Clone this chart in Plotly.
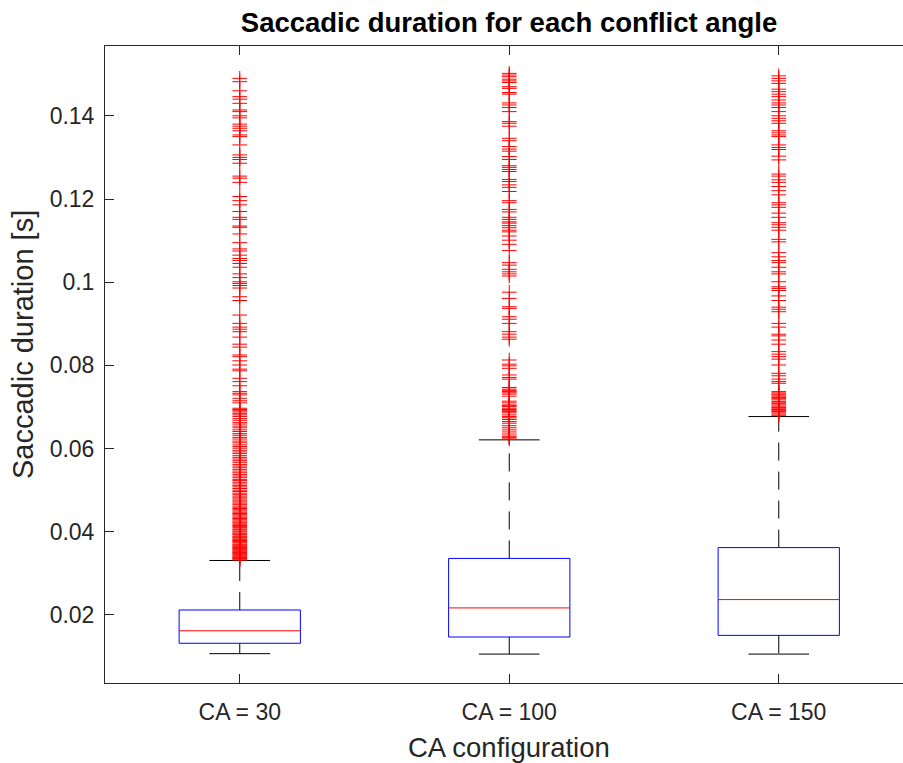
import plotly.graph_objects as go

# Box-plot summary per conflict angle (seconds)
categories = ["CA = 30", "CA = 100", "CA = 150"]
positions = [1, 2, 3]
q1 = [0.0132, 0.0147, 0.0151]
median = [0.0162, 0.0217, 0.0237]
q3 = [0.0212, 0.0336, 0.0362]
lower_whisker = [0.0107, 0.0106, 0.0106]
upper_whisker = [0.0331, 0.0621, 0.0677]

# Outlying saccade durations (seconds)
outliers_ca30 = [
    0.1490, 0.1482, 0.1460, 0.1446, 0.1440, 0.1430, 0.1414, 0.1410, 0.1400, 0.1395,
    0.1380, 0.1375, 0.1370, 0.1364, 0.1354, 0.1350, 0.1330, 0.1306, 0.1300, 0.1295,
    0.1286, 0.1255, 0.1250, 0.1240, 0.1206, 0.1196, 0.1186, 0.1170, 0.1156, 0.1151,
    0.1135, 0.1132, 0.1116, 0.1095, 0.1080, 0.1075, 0.1065, 0.1057, 0.1052, 0.1045,
    0.1036, 0.1020, 0.1011, 0.1001, 0.0997, 0.0992, 0.0986, 0.0965, 0.0956, 0.0921,
    0.0901, 0.0892, 0.0887, 0.0881, 0.0868, 0.0851, 0.0844, 0.0825, 0.0821, 0.0811,
    0.0801, 0.0791, 0.0787, 0.0769, 0.0761, 0.0751, 0.0737, 0.0733, 0.0729, 0.0721,
    0.0715, 0.0710, 0.0697, 0.0694, 0.0691, 0.0688, 0.0684, 0.0681, 0.0677, 0.0672,
    0.0668, 0.0663, 0.0659, 0.0654, 0.0650, 0.0645, 0.0641, 0.0636, 0.0632, 0.0627,
    0.0623, 0.0618, 0.0614, 0.0609, 0.0605, 0.0601, 0.0596, 0.0592, 0.0588, 0.0583,
    0.0579, 0.0575, 0.0571, 0.0567, 0.0562, 0.0558, 0.0554, 0.0550, 0.0546, 0.0542,
    0.0538, 0.0534, 0.0530, 0.0526, 0.0523, 0.0519, 0.0515, 0.0511, 0.0508, 0.0504,
    0.0500, 0.0497, 0.0493, 0.0490, 0.0486, 0.0483, 0.0479, 0.0476, 0.0472, 0.0469,
    0.0466, 0.0462, 0.0459, 0.0456, 0.0453, 0.0450, 0.0447, 0.0444, 0.0441, 0.0438,
    0.0435, 0.0432, 0.0429, 0.0426, 0.0423, 0.0421, 0.0418, 0.0415, 0.0413, 0.0410,
    0.0407, 0.0405, 0.0402, 0.0400, 0.0397, 0.0395, 0.0393, 0.0390, 0.0388, 0.0386,
    0.0383, 0.0381, 0.0379, 0.0377, 0.0375, 0.0373, 0.0370, 0.0368, 0.0366, 0.0364,
    0.0362, 0.0360, 0.0358, 0.0356, 0.0354, 0.0352, 0.0350, 0.0348, 0.0346, 0.0344,
    0.0342, 0.0340, 0.0338, 0.0336, 0.0334, 0.0332,
]
outliers_ca100 = [
    0.1502, 0.1498, 0.1494, 0.1488, 0.1484, 0.1480, 0.1470, 0.1466, 0.1456, 0.1452,
    0.1431, 0.1426, 0.1420, 0.1410, 0.1386, 0.1382, 0.1375, 0.1346, 0.1340, 0.1326,
    0.1320, 0.1315, 0.1302, 0.1295, 0.1280, 0.1276, 0.1271, 0.1266, 0.1247, 0.1242,
    0.1234, 0.1228, 0.1218, 0.1196, 0.1191, 0.1175, 0.1169, 0.1156, 0.1151, 0.1145,
    0.1142, 0.1136, 0.1131, 0.1125, 0.1121, 0.1111, 0.1101, 0.1091, 0.1076, 0.1047,
    0.1041, 0.1031, 0.1025, 0.1020, 0.1015, 0.0976, 0.0961, 0.0941, 0.0937, 0.0917,
    0.0911, 0.0901, 0.0881, 0.0875, 0.0868, 0.0863, 0.0813, 0.0803, 0.0799, 0.0793,
    0.0777, 0.0771, 0.0767, 0.0747, 0.0743, 0.0740, 0.0737, 0.0734, 0.0731, 0.0726,
    0.0714, 0.0710, 0.0705, 0.0703, 0.0701, 0.0697, 0.0694, 0.0691, 0.0689, 0.0686,
    0.0681, 0.0677, 0.0674, 0.0670, 0.0665, 0.0661, 0.0655, 0.0650, 0.0645, 0.0640,
    0.0635, 0.0630, 0.0628, 0.0626, 0.0623,
]
outliers_ca150 = [
    0.1496, 0.1490, 0.1484, 0.1478, 0.1464, 0.1458, 0.1452, 0.1446, 0.1438, 0.1431,
    0.1426, 0.1420, 0.1410, 0.1400, 0.1394, 0.1388, 0.1382, 0.1364, 0.1359, 0.1354,
    0.1350, 0.1330, 0.1324, 0.1319, 0.1303, 0.1294, 0.1260, 0.1255, 0.1246, 0.1240,
    0.1230, 0.1220, 0.1210, 0.1191, 0.1186, 0.1180, 0.1166, 0.1156, 0.1143, 0.1138,
    0.1132, 0.1125, 0.1103, 0.1097, 0.1071, 0.1061, 0.1052, 0.1047, 0.1036, 0.1025,
    0.1020, 0.1001, 0.0989, 0.0985, 0.0980, 0.0967, 0.0956, 0.0940, 0.0935, 0.0929,
    0.0901, 0.0892, 0.0875, 0.0871, 0.0861, 0.0851, 0.0833, 0.0827, 0.0821, 0.0815,
    0.0801, 0.0781, 0.0775, 0.0767, 0.0761, 0.0757, 0.0737, 0.0734, 0.0731, 0.0729,
    0.0726, 0.0723, 0.0720, 0.0717, 0.0713, 0.0710, 0.0708, 0.0705, 0.0702, 0.0699,
    0.0697, 0.0694, 0.0692, 0.0689, 0.0686, 0.0683, 0.0680,
]
outlier_groups = [outliers_ca30, outliers_ca100, outliers_ca150]

BOX_HALF = 0.225     # half box width in category units
CAP_HALF = 0.1125    # half whisker-cap width
AXIS_COLOR = "#262626"
FONT = "Liberation Sans, Arial, Helvetica, sans-serif"

fig = go.Figure()

# whiskers: drawn outward from the box so the dash pattern starts at the box edge
wx, wy = [], []
lx, ly = [], []
cx, cy = [], []
for p, a, b, lo, hi in zip(positions, q1, q3, lower_whisker, upper_whisker):
    wx += [p, p, None]
    wy += [b, hi, None]
    lx += [p, p, None]
    ly += [a, lo, None]
    cx += [p - CAP_HALF, p + CAP_HALF, None, p - CAP_HALF, p + CAP_HALF, None]
    cy += [hi, hi, None, lo, lo, None]

fig.add_trace(go.Scatter(x=wx, y=wy, mode="lines",
                         line=dict(color="black", width=1, dash="18px,11px"),
                         hoverinfo="skip"))
fig.add_trace(go.Scatter(x=lx, y=ly, mode="lines",
                         line=dict(color="black", width=1, dash="18px,11px"),
                         hoverinfo="skip"))
fig.add_trace(go.Scatter(x=cx, y=cy, mode="lines",
                         line=dict(color="black", width=1), hoverinfo="skip"))

# boxes and medians
bx, by = [], []
mx, my = [], []
for p, a, m, b in zip(positions, q1, median, q3):
    bx += [p - BOX_HALF, p + BOX_HALF, p + BOX_HALF, p - BOX_HALF, p - BOX_HALF, None]
    by += [a, a, b, b, a, None]
    mx += [p - BOX_HALF, p + BOX_HALF, None]
    my += [m, m, None]
fig.add_trace(go.Scatter(x=bx, y=by, mode="lines",
                         line=dict(color="#0000FF", width=1), hoverinfo="skip"))
fig.add_trace(go.Scatter(x=mx, y=my, mode="lines",
                         line=dict(color="#FF0000", width=1), hoverinfo="skip"))

# outliers as red plus signs
ox, oy = [], []
for p, vals in zip(positions, outlier_groups):
    ox += [p] * len(vals)
    oy += vals
fig.add_trace(go.Scatter(x=ox, y=oy, mode="markers",
                         marker=dict(symbol="cross-thin-open", size=10.5,
                                     color="#FF0000",
                                     line=dict(color="#FF0000", width=1)),
                         hoverinfo="skip"))

fig.update_layout(
    width=903, height=763,
    margin=dict(l=105, r=0, t=46, b=80),
    paper_bgcolor="white", plot_bgcolor="white",
    showlegend=False,
    font=dict(family=FONT, color=AXIS_COLOR, size=23),
    title=dict(text="<b>Saccadic duration for each conflict angle</b>",
               font=dict(family=FONT, size=27.5, color="black"),
               xref="container", x=509 / 903, xanchor="center",
               yref="container", y=1 - 22 / 763, yanchor="middle"),
)
fig.update_xaxes(
    range=[0.5, 0.5 + 798 / 269.5],
    tickvals=positions, ticktext=categories,
    ticks="inside", ticklen=9, tickwidth=1, tickcolor=AXIS_COLOR,
    showline=True, linecolor=AXIS_COLOR, linewidth=1, mirror="ticks",
    showgrid=False, zeroline=False, ticklabelstandoff=8,
    tickfont=dict(size=23, color=AXIS_COLOR),
)
fig.update_yaxes(
    range=[0.00365, 0.15678],
    tickvals=[0.02, 0.04, 0.06, 0.08, 0.1, 0.12, 0.14],
    ticktext=["0.02", "0.04", "0.06", "0.08", "0.1", "0.12", "0.14"],
    ticks="inside", ticklen=9, tickwidth=1, tickcolor=AXIS_COLOR,
    showline=True, linecolor=AXIS_COLOR, linewidth=1, mirror=False,
    showgrid=False, zeroline=False, ticklabelstandoff=5,
    tickfont=dict(size=23, color=AXIS_COLOR),
)

fig.add_annotation(text="CA configuration", xref="paper", yref="paper",
                   x=(509 - 105) / 798, y=(683 - 748) / 637,
                   xanchor="center", yanchor="middle", showarrow=False,
                   font=dict(family=FONT, size=27.5, color=AXIS_COLOR))
fig.add_annotation(text="Saccadic duration [s]", xref="paper", yref="paper",
                   x=(23 - 105) / 798, y=(683 - 345) / 637, textangle=-90,
                   xanchor="center", yanchor="middle", showarrow=False,
                   font=dict(family=FONT, size=29, color=AXIS_COLOR))

fig.write_html("out.html")
